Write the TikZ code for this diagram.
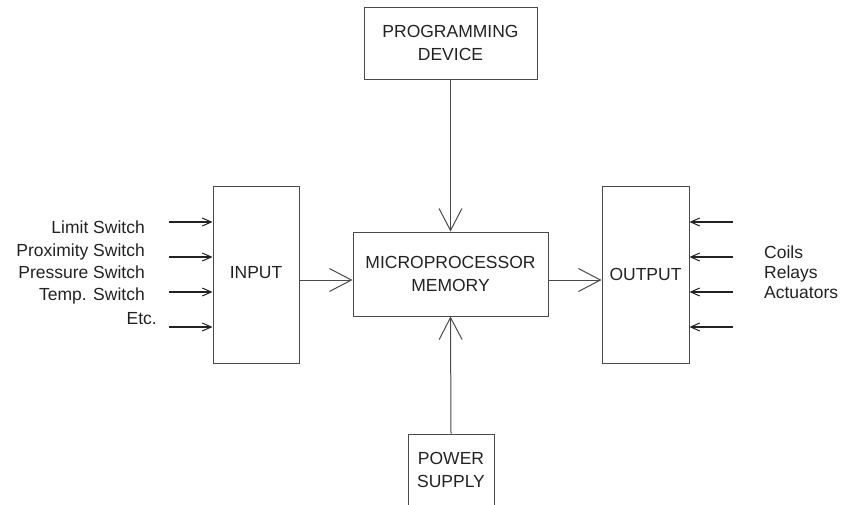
\documentclass[tikz,border=0pt]{standalone}
\usepackage{fontspec}
\setmainfont{Liberation Sans}
\usetikzlibrary{arrows.meta}
\definecolor{ink}{HTML}{222222}
\definecolor{lin}{HTML}{4A4A4A}
\begin{document}
\begin{tikzpicture}[x=1pt,y=-1pt,
  every node/.style={font=\fontsize{17.5}{23}\selectfont, text=ink},
  blk/.style={draw=lin, line width=1pt, inner sep=0pt, align=center},
  bigarrow/.style={draw=lin, line width=1pt, -{Straight Barb[length=22pt,width=23pt,line width=1pt]}},
  smallarrow/.style={draw=ink, line width=1.6pt, -{Straight Barb[length=9pt,width=8pt,line width=1pt]}},
  lbl/.style={inner sep=0pt}]
\useasboundingbox (0,0) rectangle (843,504);
% boxes
\node[blk, minimum width=173pt, minimum height=72pt] (prog) at (450.5,43) {PROGRAMMING\\DEVICE};
\node[blk, minimum width=195pt, minimum height=84pt] (micro) at (450.5,274) {MICROPROCESSOR\\MEMORY};
\node[blk, minimum width=86pt, minimum height=74pt] (power) at (451,471) {\raisebox{2pt}{\begin{tabular}{@{}c@{}}POWER\\SUPPLY\end{tabular}}};
\node[blk, minimum width=86pt, minimum height=177pt] (input) at (256,274.5) {\raisebox{5pt}{INPUT}};
\node[blk, minimum width=87pt, minimum height=177pt] (output) at (645.5,274.5) {\raisebox{-3pt}{OUTPUT}};
% main connectors
\draw[bigarrow] (prog.south) -- (micro.north);
\draw[bigarrow] (power.north) -- (micro.south);
\draw[bigarrow] (input.east |- 0,280) coordinate (ie) -- (micro.west |- ie);
\draw[bigarrow] (micro.east |- 0,280) coordinate (me) -- (output.west |- me);
% input signals
\foreach \y/\n in {222/1,257/2,292/3,327/4}{
  \coordinate (is\n) at (169,\y);
  \draw[smallarrow] (is\n) -- (input.west |- is\n);
  \coordinate (os\n) at (733,\y);
  \draw[smallarrow] (os\n) -- (output.east |- os\n);
}
% left labels
\node[lbl, anchor=base east] (l1) at (145,233.5) {Limit Switch};
\node[lbl, anchor=base east] (l2) at (145,256.5) {Proximity Switch};
\node[lbl, anchor=base east] (l3) at (145,278.5) {Pressure Switch};
\node[lbl, anchor=base east] (l4) at (145,300.5) {Temp. Switch};
\node[lbl, anchor=base east] (l5) at (157,324.5) {Etc.};
% right labels
\node[lbl, anchor=base west] (r1) at (764,258) {Coils};
\node[lbl, anchor=base west] (r2) at (764,278) {Relays};
\node[lbl, anchor=base west] (r3) at (764,298) {Actuators};
\end{tikzpicture}
\end{document}
